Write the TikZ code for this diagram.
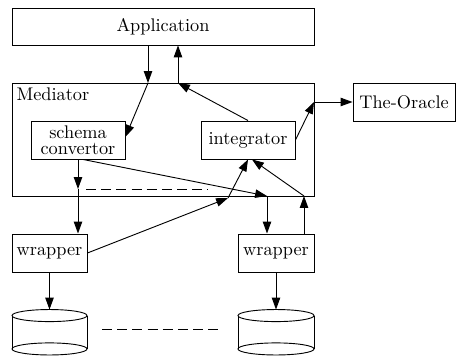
\documentclass[tikz,border=0pt]{standalone}
\usetikzlibrary{arrows.meta,calc}
\begin{document}
\begin{tikzpicture}[x=0.547pt,y=-0.547pt,line width=0.5pt,
  box/.style={draw,rectangle,inner sep=0pt,align=center,minimum height=20.8pt},
  arr/.style={-{Triangle[length=6.5pt,width=4.6pt]}},
  dsh/.style={dash pattern=on 5.5pt off 2.8pt}]
\useasboundingbox (0,0) rectangle (457,356);
% boxes
\node[box,minimum width=165.2pt,minimum height=20.2pt] (app) at (163,26.5) {Application};
\node[box,minimum width=165.2pt,minimum height=61.8pt] (med) at (163,139.5) {};
\node[anchor=north west,inner sep=2.5pt] (medl) at (med.north west) {Mediator};
\node[box,minimum width=51.4pt] (sc) at (78,140) {schema\\[-3.4pt]convertor};
\node[box,minimum width=51.4pt] (integ) at (248,140) {integrator};
\node[box,minimum width=55.8pt] (oracle) at (404,102) {The-Oracle};
\node[box,minimum width=41pt] (w1) at (49.5,253) {wrapper};
\node[box,minimum width=41.6pt] (w2) at (276,253) {wrapper};
\node[inner sep=0pt,minimum width=41pt,minimum height=24.6pt] (c1) at (49.5,332.5) {};
\node[inner sep=0pt,minimum width=41.6pt,minimum height=24.6pt] (c2) at (276,332.5) {};
% cylinders
\foreach \c/\xl/\xr/\rx in {c1/12/87/20.5pt,c2/238/314/20.8pt}{
  \draw ($(\c.north)+(0,6)$) ellipse[x radius=\rx,y radius=3.3pt];
  \draw ($(\c.south)+(0,-6.5)$) ellipse[x radius=\rx,y radius=3.3pt];
  \draw (\xl,316) -- (\xl,348.5) (\xr,316) -- (\xr,348.5);
}
% junction coordinates
\coordinate (m1) at (148,83);
\coordinate (m2) at (178,83);
\coordinate (m3) at (314,102);
\coordinate (m4) at (78,189);
\coordinate (m5) at (267,196);
\coordinate (m6) at (228,198);
\coordinate (m7) at (304,196);
\coordinate (d1) at (86,189);
\coordinate (d2) at (208,189);
\coordinate (d3) at (102,329);
\coordinate (d4) at (223,329);
% connectors
\draw[arr] (app.south -| m1) -- (m1);
\draw[arr] (m1) -- ($(sc.north east)!0.42!(sc.south east)$);
\draw[arr] (integ.north) -- (m2);
\draw[arr] (m2) -- (app.south -| m2);
\draw[arr] (integ.east) -- (m3);
\draw[arr] (m3) -- (oracle.west);
\draw[arr] (sc.south) -- (m4);
\draw[arr] (m4) -- (m4 |- w1.north);
\draw[dsh] (d1) -- (d2);
\draw[arr] ($(sc.south)+(5,0)$) -- (m5);
\draw[arr] (m5) -- (m5 |- w2.north);
\draw[arr] (w1.east) -- (m6);
\draw[arr] (m6) -- (integ.south);
\draw[arr] (w2.north -| m7) -- (m7);
\draw[arr] (m7) -- ($(integ.south)+(4,0)$);
\draw[arr] (w1.south) -- (c1.north);
\draw[arr] (w2.south) -- (c2.north);
\draw[dsh] (d3) -- (d4);
\end{tikzpicture}
\end{document}
